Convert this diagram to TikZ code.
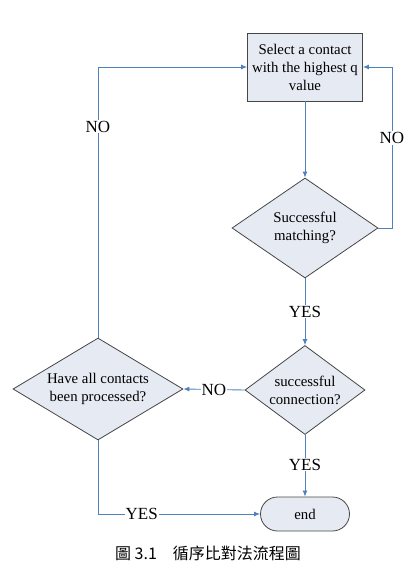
\documentclass[tikz,border=0pt]{standalone}
\usepackage{fontspec}
\setmainfont{Liberation Serif}
\newfontfamily\cjk{Noto Sans CJK TC}
\usetikzlibrary{arrows.meta}
\usetikzlibrary{shapes.geometric}
\usetikzlibrary{calc}

\definecolor{boxfill}{RGB}{230,234,243}
\definecolor{linkblue}{RGB}{79,129,189}
\definecolor{edgegray}{RGB}{70,70,70}

\begin{document}
\begin{tikzpicture}
  [x=1pt,y=-1pt,
   every node/.style={font=\fontsize{14.8}{18}\selectfont},
   proc/.style={rectangle,draw=edgegray,fill=boxfill,line width=0.8pt,align=center,
     minimum width=115pt,minimum height=68pt,inner sep=0pt},
   test/.style={diamond,draw=edgegray,fill=boxfill,line width=0.8pt,align=center,
     inner sep=0pt},
   terminal/.style={rectangle,rounded corners=17pt,draw=edgegray,fill=boxfill,
     line width=0.8pt,minimum width=89pt,minimum height=34pt},
   flow/.style={draw=linkblue,line width=0.9pt,-{Latex[length=6pt,width=5pt]}},
   answer/.style={fill=white,inner sep=1pt,font=\fontsize{17}{17}\selectfont}]
  \useasboundingbox (0,0) rectangle (408,571);

  \node[proc] (pick) at (305,67) {Select a contact\\with the highest q\\value};
  \node[test,minimum width=146pt,minimum height=100pt,aspect=1.46] (match) at (305,228)
    {Successful\\matching?};
  \node[test,minimum width=120pt,minimum height=89pt,aspect=1.35] (conn) at (305,390)
    {successful\\connection?};
  \node[test,minimum width=170pt,minimum height=102pt,aspect=1.67] (done) at (98,389)
    {Have all contacts\\been processed?};
  \node[terminal] (end) at (305,514) {end};
  \coordinate (rloop) at (392,228);

  \node[font=\cjk\fontsize{16}{16}\selectfont] (cap) at (208,553) {圖 3.1\quad 循序比對法流程圖};

  \draw[flow] (pick) -- (match);
  \draw[flow] (match.east) -- (rloop) |- node[answer,pos=0.28] {NO} (pick.east);
  \draw[flow] (match) -- node[answer] {YES} (conn);
  \draw[flow] (conn.west) -- node[answer] {NO} (done.east);
  \draw[flow] (conn) -- node[answer,pos=0.48] {YES} (end);
  \draw[flow] (done.south) |- node[answer,pos=0.635] {YES} (end.west);
  \draw[flow] (done.north) |- node[answer,pos=0.39] {NO} (pick.west);
\end{tikzpicture}
\end{document}
